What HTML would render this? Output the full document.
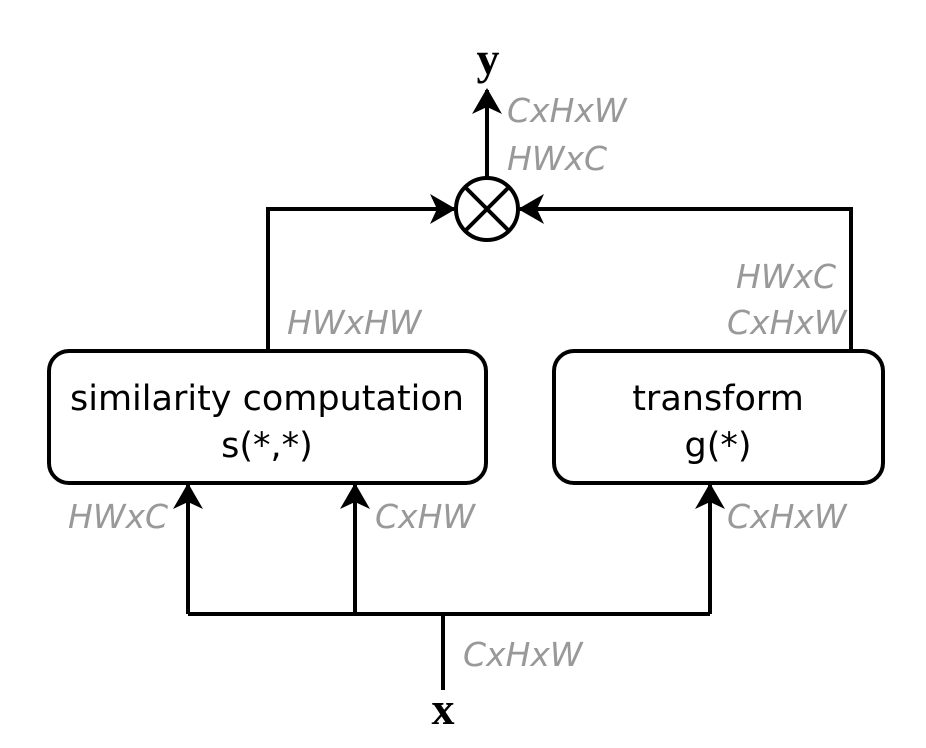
<!DOCTYPE html>
<html><head><style>
body{margin:0;background:#fff}
svg{display:block}
.t{font-family:"DejaVu Sans",sans-serif;font-size:35px;fill:#000}
.g{font-family:"DejaVu Sans",sans-serif;font-size:33px;fill:#999;font-style:italic}
.b{font-family:"Liberation Serif",serif;font-weight:bold;font-size:46px;fill:#000}
</style></head><body>
<svg width="926" height="748" viewBox="0 0 926 748">
<defs>
<marker id="m" viewBox="0 0 26 30" refX="24" refY="15" markerWidth="26" markerHeight="30" orient="auto" markerUnits="userSpaceOnUse"><path d="M0,0 L26,15 L0,30 L7,15z" fill="#000"/></marker></defs>
<g stroke="#000" stroke-width="4" fill="none">
<rect x="49" y="351" width="437" height="132" rx="20"/>
<rect x="554" y="351" width="329" height="132" rx="20"/>
<circle cx="487" cy="209" r="31"/>
<line x1="465" y1="187" x2="509" y2="231"/><line x1="509" y1="187" x2="465" y2="231"/>
<polyline points="268,351 268,209 454,209" marker-end="url(#m)"/>
<polyline points="851,351 851,209 520,209" marker-end="url(#m)"/>
<line x1="487" y1="178" x2="487" y2="90" marker-end="url(#m)"/>
<polyline points="188,614 710,614"/>
<line x1="188" y1="614" x2="188" y2="485" marker-end="url(#m)"/>
<line x1="355" y1="614" x2="355" y2="485" marker-end="url(#m)"/>
<line x1="710" y1="614" x2="710" y2="485" marker-end="url(#m)"/>
<line x1="443" y1="614" x2="443" y2="690"/>
</g>
<text class="b" x="488" y="74" text-anchor="middle">y</text>
<text class="b" x="443" y="724" text-anchor="middle">x</text>
<text class="t" x="267" y="410" text-anchor="middle">similarity computation</text>
<text class="t" x="267" y="457" text-anchor="middle">s(*,*)</text>
<text class="t" x="718" y="410" text-anchor="middle">transform</text>
<text class="t" x="718" y="457" text-anchor="middle">g(*)</text>
<text class="g" x="507" y="122">CxHxW</text>
<text class="g" x="507" y="170">HWxC</text>
<text class="g" x="287" y="334">HWxHW</text>
<text class="g" x="736" y="288">HWxC</text>
<text class="g" x="727" y="334">CxHxW</text>
<text class="g" x="68" y="528">HWxC</text>
<text class="g" x="375" y="528">CxHW</text>
<text class="g" x="727" y="528">CxHxW</text>
<text class="g" x="463" y="666">CxHxW</text>
</svg>
</body></html>
